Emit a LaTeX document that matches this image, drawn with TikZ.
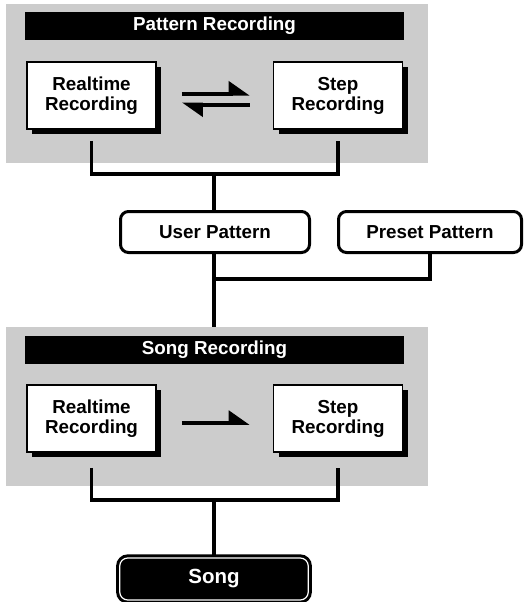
\documentclass[tikz,border=0pt]{standalone}
\usepackage{fontspec}
\setmainfont{Liberation Sans}
\usetikzlibrary{arrows.meta,shadows}
\definecolor{recGris}{HTML}{CCCCCC}

\begin{document}
\begin{tikzpicture}[x=1pt, y=-1pt,
      every node/.style={font=\fontsize{18.8}{20}\selectfont\bfseries, inner sep=0pt},
      panel/.style={fill=recGris, minimum width=422pt, minimum height=159pt},
      titulo/.style={fill=black, text=white, minimum width=379pt, minimum height=28pt},
      modo/.style={draw, line width=1.6pt, fill=white, align=center,
                   minimum width=129pt, minimum height=67pt,
                   drop shadow={shadow xshift=5pt, shadow yshift=-5pt, fill=black, opacity=1}},
      patron/.style={draw, line width=3pt, fill=white, rounded corners=8pt, minimum height=41pt},
      linea/.style={line width=3.5pt},
      flecha/.style={line width=4pt, -{Triangle[left,length=18pt,width=24pt]}}]
    \useasboundingbox (0,0) rectangle (524,602);
    % grabacion de patrones
    \node[panel]  (panelA) at (217,83.5)  {};
    \node[titulo] (tituloA) at (214.5,26) {Pattern Recording};
    \node[modo]   (rtA) at (91.5,95.5) {Realtime\\Recording};
    \node[modo]   (stA) at (338,95.5)  {Step\\Recording};
    \draw[flecha, shorten <=25pt, shorten >=23pt] ([yshift=2pt]rtA.east) -- ([yshift=2pt]stA.west);
    \draw[flecha, shorten <=23pt, shorten >=25pt] ([yshift=-9pt]stA.west) -- ([yshift=-9pt]rtA.east);
    % patrones
    \node[patron, minimum width=189pt] (user)   at (215,232) {User Pattern};
    \node[patron, minimum width=183pt] (preset) at (430,232) {Preset Pattern};
    \coordinate (juntaA) at (214,174);
    \coordinate (juntaB) at (214,279);
    \draw[linea] ([yshift=-11pt]rtA.south) |- (juntaA) -| ([yshift=-11pt]stA.south);
    \draw[linea] (juntaA) -- (juntaA |- user.north);
    % grabacion de canciones
    \node[panel]  (panelB) at (217,406.5) {};
    \node[titulo] (tituloB) at (214.5,349.5) {Song Recording};
    \node[modo]   (rtB) at (91.5,418.5) {Realtime\\Recording};
    \node[modo]   (stB) at (338,418.5)  {Step\\Recording};
    \draw[flecha, shorten <=25pt, shorten >=23pt] ([yshift=-4.3pt]rtB.east) -- ([yshift=-4.3pt]stB.west);
    \draw[linea] (juntaB |- user.south) -- (juntaB |- panelB.north);
    \draw[linea] (preset.south) |- (juntaB);
    % cancion
    \node[draw=black, fill=black, text=white, line width=3pt, double=white, double distance=1.2pt,
          rounded corners=8pt, minimum width=188.5pt, minimum height=42pt,
          font=\fontsize{20.5}{22}\selectfont\bfseries] (song) at (214,579) {Song};
    \coordinate (juntaC) at (214,500);
    \draw[linea] ([yshift=-15pt]rtB.south) |- (juntaC) -| ([yshift=-15pt]stB.south);
    \draw[linea] (juntaC) -- (song.north);
  \end{tikzpicture}
\end{document}
